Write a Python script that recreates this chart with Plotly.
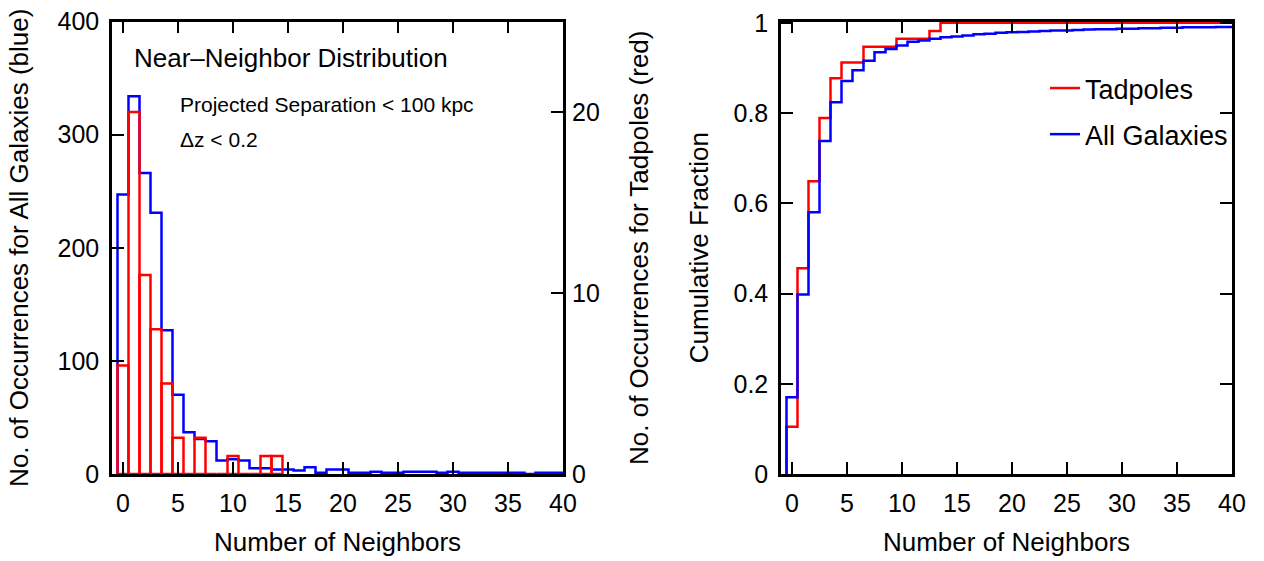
import plotly.graph_objects as go

# ---------------- data ----------------
neighbors = list(range(0, 41))

# Left panel: histogram counts for all galaxies (blue, left axis)
all_counts = [247, 334, 266, 231, 127, 70, 37, 31, 29, 12,
              13, 12, 5, 5, 4, 4, 3, 6, 1, 4,
              4, 1, 1, 2, 1, 1, 2, 2, 2, 1,
              2, 1, 1, 1, 1, 1, 1, 0, 1, 1, 1]

# Left panel: histogram counts for tadpoles (red, right axis)
tad_bins = list(range(0, 15))
tad_counts = [6, 20, 11, 8, 5, 2, 0, 2, 0, 0, 1, 0, 0, 1, 1]

# Right panel: cumulative fractions
tad_cum = [0.105, 0.456, 0.649, 0.789, 0.877, 0.912, 0.912, 0.947, 0.947, 0.947,
           0.965, 0.965, 0.965, 0.982, 1.0, 1.0, 1.0, 1.0, 1.0, 1.0,
           1.0, 1.0, 1.0, 1.0, 1.0, 1.0, 1.0, 1.0, 1.0, 1.0,
           1.0, 1.0, 1.0, 1.0, 1.0, 1.0, 1.0, 1.0, 1.0, 1.0, 1.0]
all_cum = [0.170, 0.398, 0.580, 0.738, 0.824, 0.871, 0.895, 0.916, 0.935, 0.942,
           0.950, 0.958, 0.961, 0.965, 0.968, 0.970, 0.972, 0.975, 0.976, 0.978,
           0.979, 0.980, 0.981, 0.982, 0.983, 0.983, 0.984, 0.985, 0.986, 0.986,
           0.987, 0.987, 0.988, 0.988, 0.989, 0.989, 0.990, 0.990, 0.990, 0.991, 0.991]

x_ticks = [0, 5, 10, 15, 20, 25, 30, 35, 40]

# ---------------- styling ----------------
RED = "#ff0000"
BLUE = "#0000ff"
FONT = "Liberation Sans, Arial, sans-serif"
LW = 2.5


def step_xy(centers, values):
    """Edges of unit-width bins for an hv step outline starting from zero."""
    xs = [centers[0] - 0.5, centers[0] - 0.5] + [c + 0.5 for c in centers]
    ys = [0, values[0]] + list(values[1:]) + [values[-1]]
    return xs, ys


fig = go.Figure()

bx, by = step_xy(neighbors, all_counts)
fig.add_trace(go.Scatter(x=bx, y=by, mode="lines", line=dict(color=BLUE, width=LW, shape="hv"),
                         xaxis="x", yaxis="y", showlegend=False, hoverinfo="skip"))
fig.add_trace(go.Bar(x=tad_bins, y=tad_counts, width=1.0, xaxis="x", yaxis="y2",
                     marker=dict(color="rgba(0,0,0,0)", line=dict(color=RED, width=LW)),
                     showlegend=False))

rx, ry = step_xy(neighbors, tad_cum)
fig.add_trace(go.Scatter(x=rx, y=ry, mode="lines", name="Tadpoles",
                         line=dict(color=RED, width=LW, shape="hv"),
                         xaxis="x2", yaxis="y3", legendgroup="a"))
ax_, ay_ = step_xy(neighbors, all_cum)
fig.add_trace(go.Scatter(x=ax_, y=ay_, mode="lines", name="All Galaxies",
                         line=dict(color=BLUE, width=LW, shape="hv"),
                         xaxis="x2", yaxis="y3", legendgroup="b"))

W, H = 1264, 561
yd = [(H - 474) / H, (H - 21.5) / H]
xd1 = [112 / W, 563 / W]
xd2 = [781 / W, 1232 / W]

tickfont = dict(family=FONT, size=25, color="black")
titlefont = dict(family=FONT, size=26, color="black")

common_x = dict(range=[-1, 40], tickvals=x_ticks, ticks="inside", ticklen=12, tickwidth=2,
                tickcolor="black", showline=True, linewidth=LW, linecolor="black",
                mirror="ticks", showgrid=False, zeroline=False, tickfont=tickfont,
                ticklabelstandoff=5, automargin=False)

fig.update_layout(
    width=W, height=H,
    margin=dict(l=0, r=0, t=0, b=0, autoexpand=False),
    paper_bgcolor="white", plot_bgcolor="white",
    font=dict(family=FONT, color="black"),
    barmode="overlay",
    xaxis=dict(domain=xd1, anchor="y",
               title=dict(text="Number of Neighbors", font=titlefont, standoff=18), **common_x),
    yaxis=dict(domain=yd, anchor="x", range=[0, 400], dtick=100, ticks="inside", ticklen=12,
               tickwidth=2, tickcolor="black", showline=True, linewidth=LW, linecolor="black",
               mirror=True, showgrid=False, zeroline=False, tickfont=tickfont,
               ticklabelstandoff=5, automargin=False,
               title=dict(text="No. of Occurrences for All Galaxies (blue)", font=titlefont,
                          standoff=22)),
    yaxis2=dict(overlaying="y", anchor="x", side="right", range=[0, 25], tickvals=[0, 10, 20],
                ticks="inside", ticklen=12, tickwidth=2, tickcolor="black", showline=False,
                showgrid=False, zeroline=False, tickfont=tickfont, ticklabelstandoff=8,
                automargin=False,
                title=dict(text="No. of Occurrences for Tadpoles (red)", font=titlefont,
                           standoff=30)),
    xaxis2=dict(domain=xd2, anchor="y3",
                title=dict(text="Number of Neighbors", font=titlefont, standoff=18), **common_x),
    yaxis3=dict(domain=yd, anchor="x2", range=[0, 1.003], tickvals=[0, 0.2, 0.4, 0.6, 0.8, 1.0],
                ticktext=["0", "0.2", "0.4", "0.6", "0.8", "1"],
                ticks="inside", ticklen=12, tickwidth=2, tickcolor="black", showline=True,
                linewidth=LW, linecolor="black", mirror="ticks", showgrid=False, zeroline=False,
                tickfont=tickfont, ticklabelstandoff=5, automargin=False,
                title=dict(text="Cumulative Fraction", font=titlefont, standoff=18)),
    legend=dict(x=1045 / W, y=1 - 64 / H, xanchor="left", yanchor="top",
                font=dict(family=FONT, size=27, color="black"),
                bgcolor="rgba(0,0,0,0)", traceorder="grouped", tracegroupgap=8,
                itemwidth=30),
    annotations=[
        dict(text="Near\u2013Neighbor Distribution", xref="paper", yref="paper",
             x=132 / W, y=1 - 58 / H, xanchor="left", yanchor="middle", showarrow=False,
             font=dict(family=FONT, size=26, color="black")),
        dict(text="Projected Separation &lt; 100 kpc", xref="paper", yref="paper",
             x=178 / W, y=1 - 104 / H, xanchor="left", yanchor="middle", showarrow=False,
             font=dict(family=FONT, size=21, color="black")),
        dict(text="\u0394z &lt; 0.2", xref="paper", yref="paper",
             x=178 / W, y=1 - 139 / H, xanchor="left", yanchor="middle", showarrow=False,
             font=dict(family=FONT, size=21, color="black")),
    ],
)

fig.write_html("out.html", config={"displayModeBar": False},
               post_script="document.body.style.margin='0px';")
